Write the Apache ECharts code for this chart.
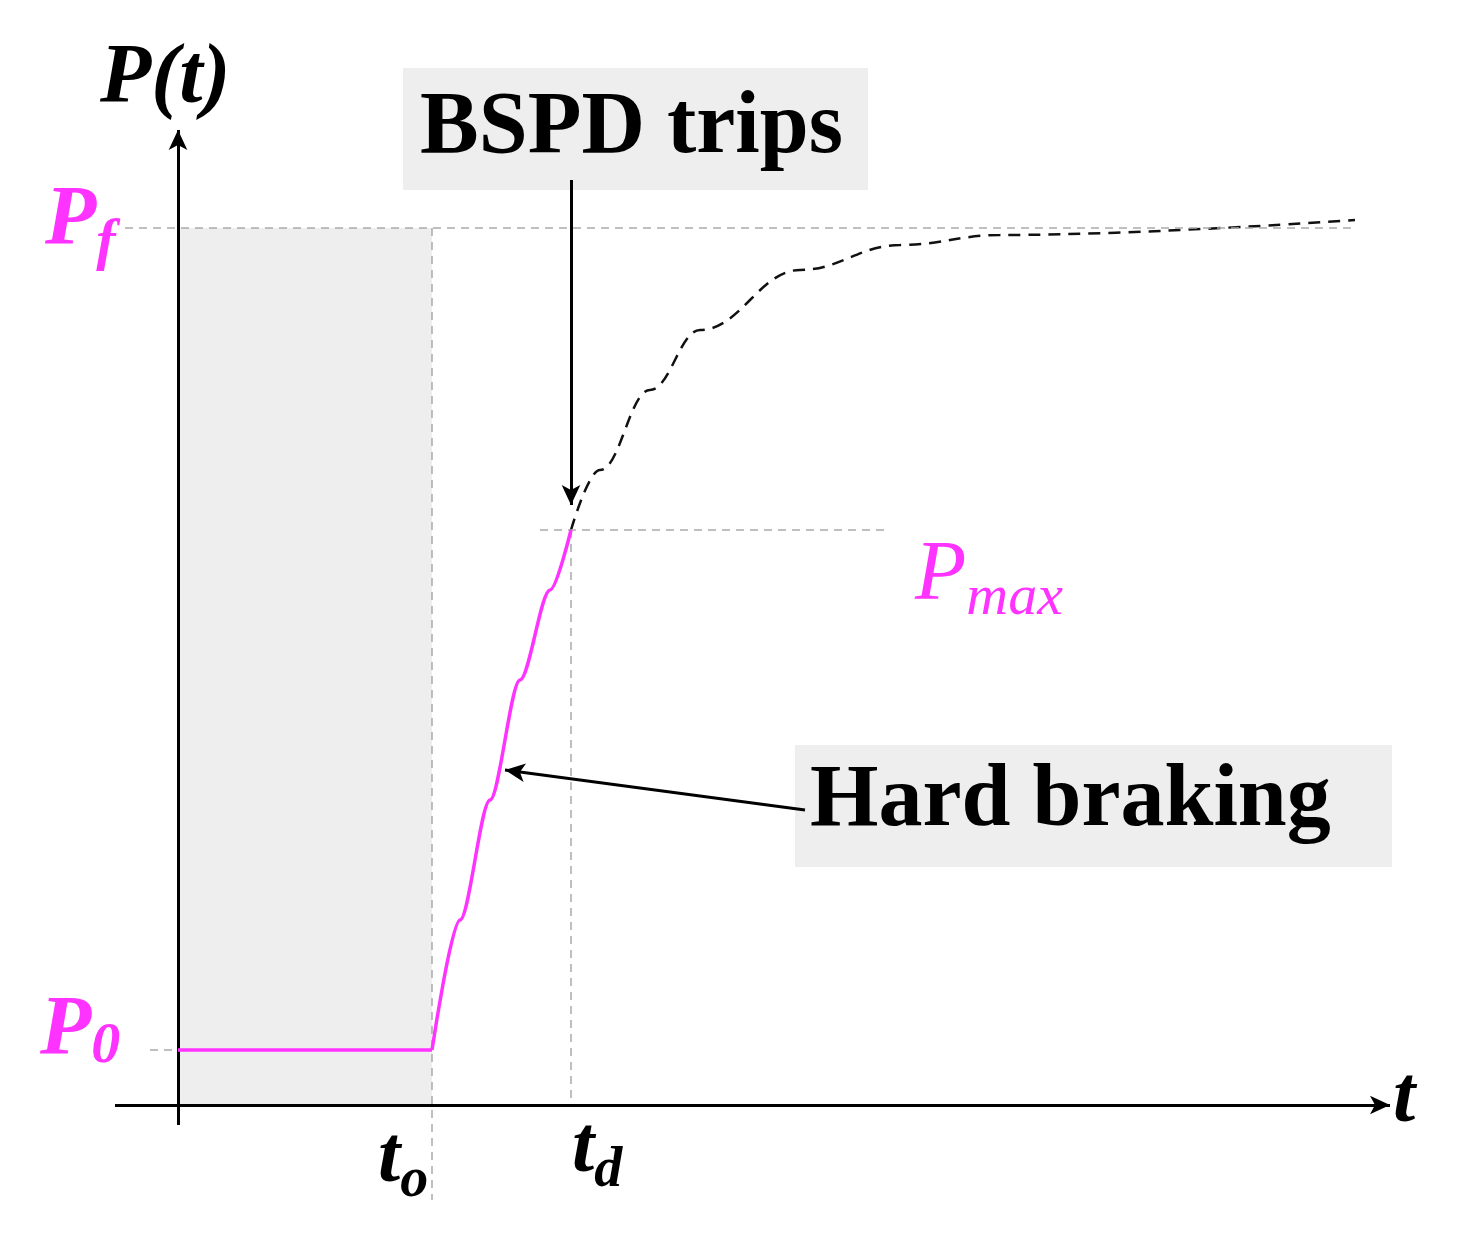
<!DOCTYPE html>
<html><head><meta charset="utf-8">
<script src="https://cdn.jsdelivr.net/npm/echarts@6/dist/echarts.min.js"></script>
<style>html,body{margin:0;background:#fff}#chart{width:1462px;height:1244px}</style>
</head><body><div id="chart"></div>
<script>
// levels (1 unit = 100px)
var P0 = 0.55, Pf = 8.77, Pmax = 5.75;
var tO = 2.54, tD = 3.93;
// pressure curve
var flatT = [0, 2.54];
var flatP = [0.55, 0.55];
var brakeT = [2.54, 2.82, 3.12, 3.42, 3.72, 3.93];
var brakeP = [0.55, 1.85, 3.05, 4.25, 5.15, 5.75];
var freeT = [3.93, 4.22, 4.72, 5.22, 6.22, 7.22, 8.22, 11.77];
var freeP = [5.75, 6.35, 7.15, 7.75, 8.35, 8.6, 8.7, 8.85];

var serif = 'Liberation Serif, Times New Roman, serif';
var pink = '#ff33ff';
var zip = function (a, b) { return a.map(function (v, i) { return [v, b[i]]; }); };
var dashGray = {color: '#aaaaaa', type: [8, 6], width: 1.5};

var chart = echarts.init(document.getElementById('chart'));
chart.setOption({
    animation: false,
    grid: {left: 115, right: 72, top: 130, bottom: 39},
    xAxis: {type: 'value', min: -0.63, max: 12.12, show: false},
    yAxis: {type: 'value', min: -1.0, max: 9.75, show: false},
    series: [
        {
            type: 'line', data: zip(flatT, flatP), symbol: 'none',
            lineStyle: {color: pink, width: 3.5}, z: 5,
            markArea: {
                silent: true, itemStyle: {color: '#eeeeee'},
                data: [[{coord: [0, 0]}, {coord: [tO, Pf]}]]
            },
            markLine: {
                silent: true, symbol: 'none', label: {show: false}, lineStyle: dashGray,
                data: [
                    [{coord: [-0.53, Pf]}, {coord: [11.77, Pf]}],
                    [{coord: [-0.28, P0]}, {coord: [0, P0]}],
                    [{coord: [3.62, Pmax]}, {coord: [7.07, Pmax]}],
                    [{coord: [tO, Pf]}, {coord: [tO, -0.95]}],
                    [{coord: [tD, Pmax]}, {coord: [tD, 0]}]
                ]
            }
        },
        {
            type: 'line', data: zip(brakeT, brakeP), smooth: 0.3, smoothMonotone: 'x', symbol: 'none',
            lineStyle: {color: pink, width: 3.5}, z: 5
        },
        {
            type: 'line', data: zip(freeT, freeP), smooth: 0.4, smoothMonotone: 'x', symbol: 'none',
            lineStyle: {color: '#111', width: 2.5, type: [12, 8]}, z: 4
        },
        {
            type: 'line', data: [], z: 6,
            markLine: {
                silent: true, symbol: ['none', 'arrow'], symbolSize: [14, 20], label: {show: false},
                lineStyle: {color: '#000', width: 3, type: 'solid'},
                data: [
                    [{coord: [-0.63, 0]}, {coord: [12.12, 0]}],
                    [{coord: [0, -0.2]}, {coord: [0, 9.75]}],
                    [{coord: [tD, 9.25]}, {coord: [tD, 6.0]}],
                    [{coord: [6.27, 2.95]}, {coord: [3.27, 3.35]}]
                ]
            }
        }
    ],
    graphic: [
        {type: 'text', left: 100, top: 38, style: {text: 'P(t)', font: 'italic bold 84px ' + serif, fill: '#000'}},
        {type: 'text', left: 1393, top: 1060, style: {text: 't', font: 'italic bold 80px ' + serif, fill: '#000'}},
        {type: 'text', left: 45, top: 180, style: {text: '{a|P}{b|f}', rich: {
            a: {font: 'italic bold 84px ' + serif, fill: pink},
            b: {font: 'italic bold 58px ' + serif, fill: pink, padding: [44, 0, 0, 0]}}}},
        {type: 'text', left: 40, top: 990, style: {text: '{a|P}{b|0}', rich: {
            a: {font: 'italic bold 84px ' + serif, fill: pink},
            b: {font: 'italic bold 58px ' + serif, fill: pink, padding: [30, 0, 0, 0]}}}},
        {type: 'text', left: 915, top: 535, style: {text: '{a|P}{b|max}', rich: {
            a: {font: 'italic 84px ' + serif, fill: pink},
            b: {font: 'italic 58px ' + serif, fill: pink, padding: [44, 0, 0, 0]}}}},
        {type: 'text', left: 378, top: 1120, style: {text: '{a|t}{b|o}', rich: {
            a: {font: 'italic bold 80px ' + serif, fill: '#000'},
            b: {font: 'italic bold 56px ' + serif, fill: '#000', padding: [44, 0, 0, 0]}}}},
        {type: 'text', left: 572, top: 1110, style: {text: '{a|t}{b|d}', rich: {
            a: {font: 'italic bold 80px ' + serif, fill: '#000'},
            b: {font: 'italic bold 56px ' + serif, fill: '#000', padding: [44, 0, 0, 0]}}}},
        {type: 'rect', shape: {x: 403, y: 68, width: 465, height: 122}, style: {fill: '#eeeeee'}},
        {type: 'text', left: 420, top: 85, style: {text: 'BSPD trips', font: 'bold 88px ' + serif, fill: '#000'}},
        {type: 'rect', shape: {x: 795, y: 745, width: 597, height: 122}, style: {fill: '#eeeeee'}},
        {type: 'text', left: 810, top: 758, style: {text: 'Hard braking', font: 'bold 88px ' + serif, fill: '#000'}},
        {type: 'text', left: 208, top: 700, style: {text: 'Top-\nspeed', font: 'bold 88px ' + serif, fill: '#000', lineHeight: 100}}
    ]
});
</script></body></html>
